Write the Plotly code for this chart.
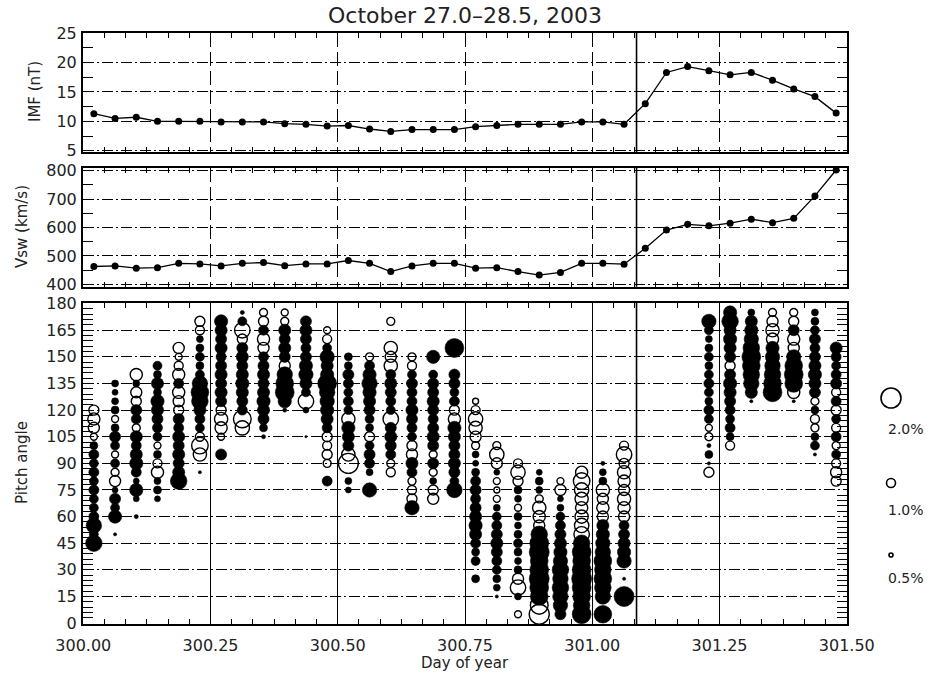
import plotly.graph_objects as go

# ---------------- data ----------------
# hourly solar-wind averages, centred on the half hour (day of year 2003)
hour_day = [300 + (k + 0.5) / 24 for k in range(36)]
imf_nT = [11.3, 10.5, 10.7, 10.0, 10.0, 10.0, 9.9, 9.9, 9.9, 9.6, 9.5, 9.2,
          9.3, 8.7, 8.3, 8.6, 8.6, 8.6, 9.1, 9.3, 9.5, 9.5, 9.5, 9.9,
          9.9, 9.5, 13.0, 18.3, 19.3, 18.6, 17.9, 18.3, 17.0, 15.5, 14.2, 11.4]
vsw_kms = [463, 465, 457, 459, 474, 472, 465, 474, 477, 466, 472, 472,
           484, 474, 445, 465, 474, 474, 457, 459, 445, 433, 442, 474,
           474, 471, 527, 591, 611, 606, 615, 629, 617, 632, 711, 802]

shock_day = 301.087

# pitch-angle distributions: one column per hour, 5-degree bins starting
# at pa_lo; signed percentage (+ excess = filled, - deficit = open, 0 = none)
pa_hour = [0, 1, 2, 3, 4, 5, 6, 7, 8, 9, 10, 11, 12, 13, 14, 15, 16, 17,
           18, 19, 20, 21, 22, 23, 24, 25, 29, 30, 31, 32, 33, 34, 35]
pa_lo = [45, 50, 60, 70, 80, 85, 95, 110, 105, 120, 105, 80, 75, 75, 85, 65, 70, 75,
         25, 15, 5, 5, 5, 5, 5, 15, 85, 100, 125, 130, 125, 95, 80]
pa_pct = [
    [1.7, 1.0, 1.6, 1.1, 1.0, 1.0, 1.1, 1.0, 1.1, 1.0, 1.1, 0.9, -0.8, -1.2, -1.3, -1.1],
    [0.4, 0, 1.4, 1.0, 1.2, 0.7, -1.2, -0.9, 1.0, -0.8, 1.0, 1.2, 0.9, -0.8, 0.9, 0.8, 0.7, 0.8],
    [0.5, 0, 0.7, 1.4, 0.7, 1.1, 1.4, 1.3, 1.1, 1.3, -0.9, 1.1, 1.2, -1.1, -1.2, 0.8, -1.3],
    [0.7, 0.9, 0.8, -1.3, -1.0, 0.9, -0.8, 1.0, 1.1, 1.2, 1.3, 1.4, 0.9, 1.3, 0.9, 1.0],
    [1.7, 1.3, 1.2, 1.3, 1.2, 1.3, 1.1, 1.2, -1.1, -1.2, -1.3, 1.1, -1.3, -1.0, -0.8, -1.2],
    [0.4, 0, -1.4, -1.7, -1.0, 1.0, 1.1, 1.3, 1.7, 1.8, 1.6, 1.0, 0.9, 1.0, 0.9, 0.8, -1.0, -1.1],
    [1.2, 0, -0.8, -1.3, -1.4, -1.1, 1.2, 1.3, 1.2, 1.3, 1.2, 1.1, 1.3, 1.2, 1.3, 1.4],
    [-1.5, -1.8, 1.1, 1.2, 1.3, 1.4, 1.3, 1.2, 1.3, 1.2, -1.1, -1.6, 1.0, 0.5],
    [0.5, 0.9, 1.2, 1.3, 1.4, 1.3, 1.2, 1.3, 1.2, 1.1, -1.2, -1.3, 1.1, -1.1, -0.9],
    [0.5, 1.4, 1.9, 1.8, 1.6, -1.2, 1.2, 1.3, 1.2, 1.3, -0.9, -0.8],
    [0.3, 0, 0, 0.7, -1.6, 1.0, 1.3, 1.5, 1.4, 1.2, 1.1, 1.2, 1.3, 1.2],
    [1.1, 0, -0.9, -1.1, -1.0, -1.1, 1.1, 1.3, 1.4, 1.5, 1.6, 1.9, 1.4, 1.3, 1.5, 1.0, -1.0, -0.8],
    [0.7, 0.8, 0, -2.0, -1.4, 1.2, 1.3, 1.4, -1.4, 1.0, 1.1, 1.0, 1.1, 1.2, 0.9, 0.9],
    [1.5, 0, 0.8, 1.1, 1.2, 1.0, -1.1, 0.9, 1.0, 1.2, 1.3, 1.4, 1.6, 1.4, 1.1, -0.9],
    [-1.0, -0.9, 1.1, 1.2, 1.3, 1.2, -1.6, 1.0, 1.1, 1.2, 1.3, 1.1, -1.4, -1.2, -1.4, 0, 0, -0.9],
    [1.5, -1.1, -1.0, -0.9, 1.1, 1.3, -1.2, -1.1, 1.0, 1.1, 1.2, 1.3, 1.1, 1.1, 1.2, 1.0, -1.0, -0.9],
    [-1.2, -1.1, 0.8, -0.9, 1.2, -0.9, 1.2, 1.3, 1.2, 1.1, 1.2, 1.3, 1.2, 1.2, 1.0, 0, 1.4],
    [1.6, 1.0, 1.2, 1.3, 1.2, 1.2, 1.3, 1.4, -1.3, -1.1, 1.1, 1.0, 1.2, 1.2, 0, 0, 1.9],
    [0.9, 0, 1.0, 0.9, 1.1, 1.3, 1.4, 1.3, 1.2, 1.1, 1.2, 1.1, 0.9, 0.7, 0.8, -0.9, -1.2, -1.4, -1.5, -1.0, -0.7],
    [0.4, 0.8, 0.9, 1.0, 1.1, 1.2, 1.3, 1.2, 1.1, 1.0, 0.8, -0.8, -0.7, -0.8, 0.7, -1.2, -1.5, -0.9],
    [-0.8, 0, 0.8, -1.6, -1.2, 0.9, 0.8, 0.9, 1.0, 0.9, 0.8, 0.9, -0.8, 0.8, 0.9, -1.1, -1.5, -1.0],
    [-2.0, -1.8, 1.8, 1.9, 2.0, 1.9, 1.8, 2.0, 1.9, 1.7, -1.2, -1.3, -1.4, -0.9, 0.8, 0.9, 0.7],
    [1.2, 1.5, 1.6, 1.7, 1.6, 1.7, 1.5, 1.4, 1.3, 1.2, 1.1, 1.0, 0.8, 0.7, -1.2, -0.8],
    [1.9, 1.7, 1.8, 1.9, 2.0, 1.9, 1.8, 1.9, 1.7, -1.6, -1.5, -1.4, -1.3, -1.4, -1.5, -1.7, -1.3],
    [1.8, 0, 1.6, 1.7, 1.8, 1.7, 1.8, 1.6, 1.5, 1.4, 1.3, -1.2, -1.3, -1.2, -1.4, 0.9, 0.8, 0.5],
    [2.0, 0, 0.4, 0, 1.5, 1.4, 1.3, 1.2, 1.1, -1.2, -1.3, -1.4, -1.2, -1.3, -1.4, -1.1, -1.6, -1.0],
    [-1.1, 0.4, 0.9, 0.5, -0.9, -0.8, 1.0, 1.1, 0.9, 1.0, 1.1, 1.0, 0.9, 1.0, 0.9, 0.8, 1.0, 1.5],
    [-1.0, 0.9, 1.1, 1.0, 1.1, 1.2, 1.3, 1.4, 1.2, -1.1, 1.2, 1.3, 1.4, 1.3, 1.7, 1.4],
    [0.4, 1.3, 1.6, 1.7, 1.8, 1.9, 1.7, 1.5, 1.4, 1.3, 0.8],
    [1.9, 1.8, 1.7, 1.6, 1.5, 1.4, -1.3, -1.4, -1.2, -0.9],
    [0.4, -1.3, 1.8, 1.9, 1.8, 1.5, -1.2, -1.3, 1.2, -1.1, -0.9],
    [0.4, 1.0, 0.9, -0.9, -1.0, 0.9, -0.9, 1.2, 1.3, 1.4, 1.3, 1.2, 1.1, 1.2, 1.0, 0.9, 0.8],
    [-1.1, -1.2, -1.0, 1.0, -0.9, 1.1, -1.0, 1.0, -1.1, 1.1, -1.0, 1.2, 1.1, 1.0, 1.1, 1.3],
]
pa_step = 5

legend_pct = [2.0, 1.0, 0.5]
legend_labels = ["2.0%", "1.0%", "0.5%"]


def bubble_px(p):
    """marker diameter in pixels for a percentage value"""
    return 9.0 * abs(p) ** 1.15


# unpack bubble columns into filled / open point lists
fx, fy, fs, ox, oy, osz = [], [], [], [], [], []
for hr, lo, vals in zip(pa_hour, pa_lo, pa_pct):
    t = 300 + (hr + 0.5) / 24
    for i, v in enumerate(vals):
        if v == 0:
            continue
        pa = lo + i * pa_step
        if v > 0:
            fx.append(t); fy.append(pa); fs.append(bubble_px(v))
        else:
            ox.append(t); oy.append(pa); osz.append(bubble_px(v))

# ---------------- figure ----------------
W, H = 930, 678
FONT = "DejaVu Sans"
INK = "black"
TXT = "#222222"
hgrid_dash = "11px,3px,2px,3px"
vgrid_dash = "14px,5px"

fig = go.Figure()

fig.add_trace(go.Scatter(x=hour_day, y=imf_nT, mode="lines+markers",
                         line=dict(color=INK, width=1.3),
                         marker=dict(color=INK, size=7, opacity=1),
                         xaxis="x", yaxis="y", showlegend=False))
fig.add_trace(go.Scatter(x=hour_day, y=vsw_kms, mode="lines+markers",
                         line=dict(color=INK, width=1.3),
                         marker=dict(color=INK, size=7, opacity=1),
                         xaxis="x2", yaxis="y2", showlegend=False))
fig.add_trace(go.Scatter(x=fx, y=fy, mode="markers",
                         marker=dict(symbol="circle", color=INK, size=fs,
                                     opacity=1, line=dict(width=0.6, color=INK)),
                         xaxis="x3", yaxis="y3", showlegend=False))
fig.add_trace(go.Scatter(x=ox, y=oy, mode="markers",
                         marker=dict(symbol="circle-open", color=INK, size=osz,
                                     opacity=1, line=dict(width=1.4, color=INK)),
                         xaxis="x3", yaxis="y3", showlegend=False))

# size key to the right of the pitch-angle panel (page-pixel units)
key_x = 891
key_y = [398, 483, 555]
key_text_x = 906
key_text_y = [429, 510, 578]
fig.add_trace(go.Scatter(x=[key_x] * 3, y=key_y, mode="markers",
                         marker=dict(symbol="circle-open", color=INK, opacity=1,
                                     size=[bubble_px(p) for p in legend_pct],
                                     line=dict(width=1.6, color=INK)),
                         xaxis="x4", yaxis="y4", showlegend=False))

xdom = [83 / W, 847 / W]


def ydom(top, bottom):
    return [1 - bottom / H, 1 - top / H]


def x_axis(anchor, labels, gdash):
    return dict(range=[299.9995, 301.5005], dtick=0.25, automargin=False,
                showline=True, linewidth=2, linecolor=INK, mirror="allticks",
                ticks="inside", ticklen=2, tickcolor=INK,
                showgrid=True, gridcolor=INK, gridwidth=1.4, griddash=gdash,
                zeroline=False, anchor=anchor, domain=xdom,
                showticklabels=labels, tickformat=".2f", ticklabelstandoff=6,
                tickfont=dict(family=FONT, size=16, color=TXT),
                minor=dict(dtick=1 / 24, ticks="inside", ticklen=5,
                           tickcolor=INK))


def y_axis(dom, rng, dt, mdt):
    return dict(domain=dom, range=rng, dtick=dt, automargin=False,
                showline=True, linewidth=2, linecolor=INK, mirror="allticks",
                ticks="inside", ticklen=2, tickcolor=INK,
                showgrid=True, gridcolor=INK, gridwidth=1.4, griddash=hgrid_dash,
                zeroline=False, ticklabelstandoff=1,
                tickfont=dict(family=FONT, size=16, color=TXT),
                minor=dict(dtick=mdt, ticks="inside", ticklen=10, tickcolor=INK))


fig.update_layout(
    template="none",
    width=W, height=H,
    margin=dict(l=0, r=0, t=0, b=0, pad=0, autoexpand=False),
    paper_bgcolor="white", plot_bgcolor="white",
    xaxis=x_axis("y", False, vgrid_dash),
    xaxis2=x_axis("y2", False, vgrid_dash),
    xaxis3=x_axis("y3", True, "solid"),
    yaxis=y_axis(ydom(33, 152), [4.8, 25.0], 5, 2.5),
    yaxis2=y_axis(ydom(167.7, 286.7), [392, 810], 100, 50),
    yaxis3=y_axis(ydom(302.7, 624), [-0.5, 180.5], 15, 3),
    xaxis4=dict(domain=[860 / W, 1.0], range=[860, W], visible=False,
                anchor="y4", automargin=False),
    yaxis4=dict(domain=ydom(370, 600), range=[600, 370], visible=False,
                anchor="x4", automargin=False),
)

# shock arrival marker through every panel
for yr, xr in (("y domain", "x"), ("y2 domain", "x2"), ("y3 domain", "x3")):
    fig.add_shape(type="line", xref=xr, yref=yr, x0=shock_day, x1=shock_day,
                  y0=0, y1=1, line=dict(color=INK, width=1.6), layer="above")

ann = [
    dict(text="October 27.0\u201328.5, 2003", x=465 / W, y=1 - 15 / H,
         xref="paper", yref="paper", xanchor="center", yanchor="middle",
         showarrow=False, font=dict(family=FONT, size=22, color=TXT)),
    dict(text="Day of year", x=465 / W, y=1 - 663 / H,
         xref="paper", yref="paper", xanchor="center", yanchor="middle",
         showarrow=False, font=dict(family=FONT, size=15, color=TXT)),
]
for txt, xp, yp in (("IMF (nT)", 35, 92), ("Vsw (km/s)", 22, 227),
                    ("Pitch angle", 22, 463)):
    ann.append(dict(text=txt, x=xp / W, y=1 - yp / H, xref="paper", yref="paper",
                    xanchor="center", yanchor="middle",
                    showarrow=False, textangle=-90,
                    font=dict(family=FONT, size=15, color=TXT)))
for lab, ty in zip(legend_labels, key_text_y):
    ann.append(dict(text=lab, x=key_text_x, y=ty, xref="x4", yref="y4",
                    xanchor="center", yanchor="middle", showarrow=False,
                    font=dict(family=FONT, size=14, color=TXT)))
fig.update_layout(annotations=ann)

fig.write_html("out.html",
               post_script="document.body.style.margin='0';"
                           "document.body.style.overflow='hidden';")
